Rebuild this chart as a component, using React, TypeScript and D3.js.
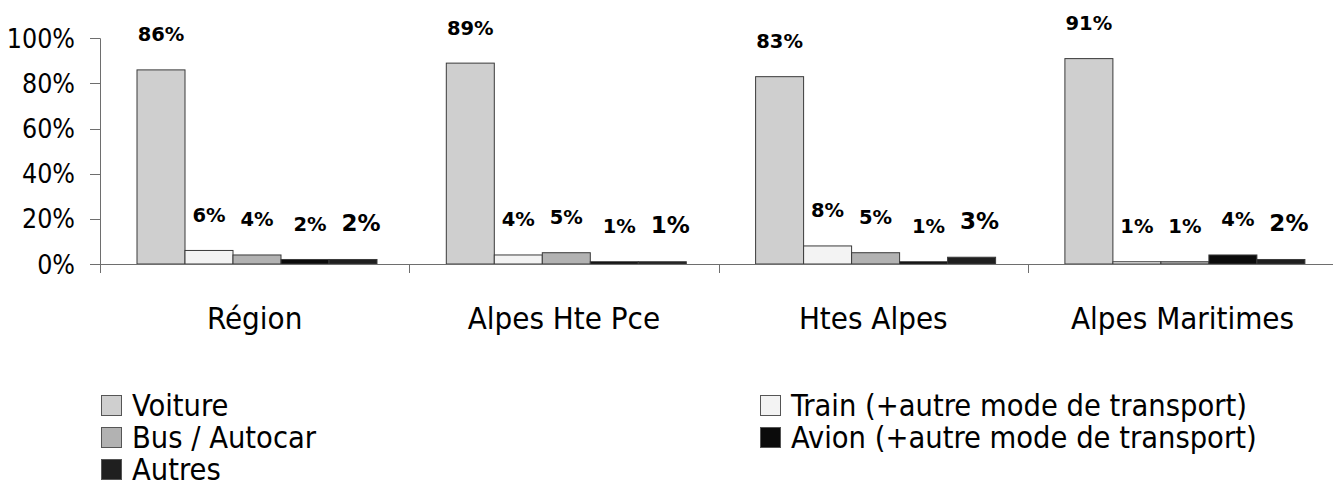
import React from "react";
import * as d3 from "d3";

const categories = ["Région", "Alpes Hte Pce", "Htes Alpes", "Alpes Maritimes"];
const seriesNames = [
  "Voiture",
  "Train (+autre mode de transport)",
  "Bus / Autocar",
  "Avion (+autre mode de transport)",
  "Autres",
];
const voiture = [86, 89, 83, 91];
const train = [6, 4, 8, 1];
const bus = [4, 5, 5, 1];
const avion = [2, 1, 1, 4];
const autres = [2, 1, 3, 2];
const yTicks = [0, 20, 40, 60, 80, 100];

const seriesValues = [voiture, train, bus, avion, autres];
const fills = ["#cfcfcf", "#f3f3f3", "#b2b2b2", "#0b0b0b", "#1f1f1f"];
const labelSizes = [19.5, 19.5, 19.5, 19.5, 23];
const labelDx = [0, 0, 0, 5, 8];
const FONT = "'DejaVu Sans Condensed', 'DejaVu Sans', sans-serif";

// legend layout: [seriesIndex, column, row]
const legendOrder: [number, number, number][] = [
  [0, 0, 0],
  [1, 1, 0],
  [2, 0, 1],
  [3, 1, 1],
  [4, 0, 2],
];

export default function App() {
  const W = 1333;
  const H = 486;
  const left = 100;
  const y = d3.scaleLinear().domain([0, 100]).range([264, 38.3]);
  const x0 = d3.scaleBand().domain(categories).range([left, left + 4 * 309.3]).padding(0);
  const x1 = d3.scaleBand().domain(seriesNames).range([37, 277]).padding(0);
  const y0 = y(0);
  const axisColor = "#6e6e6e";

  return (
    <svg width={W} height={H} style={{ position: "absolute", left: 0, top: 0 }} fontFamily={FONT}>
      <rect width={W} height={H} fill="#fff" />
      {/* y axis */}
      <line x1={left + 0.5} x2={left + 0.5} y1={y(100)} y2={y0 + 9} stroke={axisColor} strokeWidth={1} />
      {yTicks.map((t) => (
        <g key={t}>
          <line x1={left - 10} x2={left} y1={Math.round(y(t)) + 0.5} y2={Math.round(y(t)) + 0.5} stroke={axisColor} />
          <text x={75} y={y(t) + 9.5} textAnchor="end" fontSize={26.5} fill="#000">
            {t}%
          </text>
        </g>
      ))}
      {/* bars */}
      {categories.map((c, ci) => (
        <g key={c}>
          {seriesNames.map((s, si) => {
            const v = seriesValues[si][ci];
            const bx = (x0(c) ?? 0) + (x1(s) ?? 0);
            const top = y(v);
            return (
              <g key={s}>
                <rect
                  x={bx}
                  y={top}
                  width={x1.bandwidth()}
                  height={y0 - top}
                  fill={fills[si]}
                  stroke="#3a3a3a"
                  strokeWidth={1}
                />
                <text
                  x={bx + x1.bandwidth() / 2 + labelDx[si]}
                  y={top - 28.5}
                  textAnchor="middle"
                  fontSize={labelSizes[si]}
                  fontFamily="'DejaVu Sans', sans-serif"
                  fontWeight={600}
                  fill="#000"
                >
                  {v}%
                </text>
              </g>
            );
          })}
          <text x={(x0(c) ?? 0) + x0.bandwidth() / 2} y={328.5} textAnchor="middle" fontSize={31} fill="#000">
            {c}
          </text>
        </g>
      ))}
      {/* x axis */}
      <line x1={left} x2={W} y1={y0 + 0.5} y2={y0 + 0.5} stroke={axisColor} strokeWidth={1} />
      {categories.map((c, ci) =>
        ci === 0 ? null : (
          <line
            key={c}
            x1={Math.round(x0(c) ?? 0) + 0.5}
            x2={Math.round(x0(c) ?? 0) + 0.5}
            y1={y0}
            y2={y0 + 9}
            stroke={axisColor}
          />
        )
      )}
      {/* legend */}
      {legendOrder.map(([si, col, row]) => {
        const lx = col === 0 ? 101 : 760;
        const cy = 405.5 + row * 32;
        return (
          <g key={si}>
            <rect x={lx + 0.5} y={cy - 10} width={20} height={20} fill={fills[si]} stroke="#555" strokeWidth={1} />
            <text x={lx + 31} y={cy + 10} fontSize={30.5} fill="#000">
              {seriesNames[si]}
            </text>
          </g>
        );
      })}
    </svg>
  );
}
